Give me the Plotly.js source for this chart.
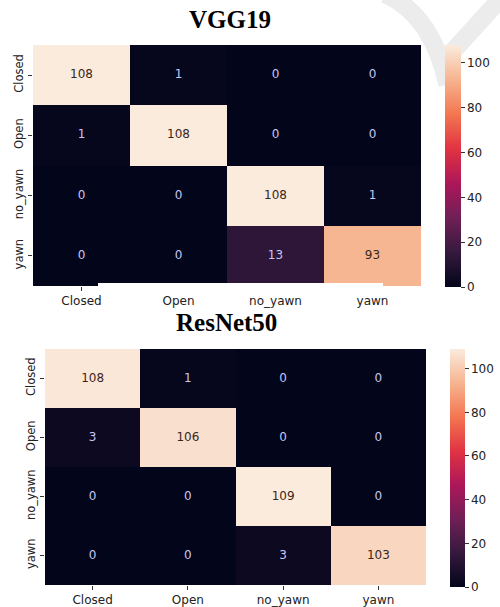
<!DOCTYPE html>
<html>
<head>
<meta charset="utf-8">
<script src="https://cdn.plot.ly/plotly-3.0.1.min.js"></script>
<style>html,body{margin:0;padding:0;background:#fff;}#chart{width:500px;height:607px;}</style>
</head>
<body>
<div id="chart"></div>
<script>
// ---- data ----
const classes = ["Closed", "Open", "no_yawn", "yawn"];
const titleTop = "VGG19";
const titleBottom = "ResNet50";
const vggMatrix = [
  [108, 1, 0, 0],
  [1, 108, 0, 0],
  [0, 0, 108, 1],
  [0, 0, 13, 93]
];
const resnetMatrix = [
  [108, 1, 0, 0],
  [3, 106, 0, 0],
  [0, 0, 109, 0],
  [0, 0, 3, 103]
];
const cbTicks = [0, 20, 40, 60, 80, 100];

// seaborn "rocket" colormap approximation
const rocket = [
  [0.0, "#03051a"],
  [0.143, "#35193e"],
  [0.286, "#701f57"],
  [0.429, "#ad1759"],
  [0.571, "#e13342"],
  [0.714, "#f37651"],
  [0.857, "#f6b48f"],
  [1.0, "#faebdd"]
];

function maxOf(m) { return Math.max(...m.map(r => Math.max(...r))); }

function heat(m, xa, ya, cb) {
  return {
    type: "heatmap",
    z: m, x: classes, y: classes,
    xaxis: xa, yaxis: ya,
    zmin: 0, zmax: maxOf(m),
    colorscale: rocket,
    hoverinfo: "skip",
    colorbar: Object.assign({
      thickness: 16, lenmode: "fraction", yanchor: "top", xanchor: "left",
      outlinewidth: 0, xpad: 0, ypad: 0,
      tickvals: cbTicks, ticks: "outside", ticklen: 4, tickwidth: 1, tickcolor: "#333",
      tickfont: {family: "DejaVu Sans", size: 12, color: "#222"}
    }, cb)
  };
}

function labels(m, xa, ya) {
  const xs = [], ys = [], ts = [], cs = [];
  const mx = maxOf(m);
  for (let i = 0; i < classes.length; i++) {
    for (let j = 0; j < classes.length; j++) {
      xs.push(classes[j]); ys.push(classes[i]); ts.push(String(m[i][j]));
      cs.push(m[i][j] > mx * 0.5 ? "#3a2618" : "#c6c6f4");
    }
  }
  return {
    type: "scatter", mode: "text", x: xs, y: ys, text: ts,
    xaxis: xa, yaxis: ya, hoverinfo: "skip", showlegend: false,
    textfont: {family: "DejaVu Sans", size: 12, color: cs}
  };
}

const data = [
  heat(vggMatrix, "x", "y", {x: 445/500, y: 1 - 45/607, len: 242/607, thickness: 16}),
  labels(vggMatrix, "x", "y"),
  heat(resnetMatrix, "x2", "y2", {x: 450/500, y: 1 - 349/607, len: 238/607, thickness: 15}),
  labels(resnetMatrix, "x2", "y2")
];

const axFont = {family: "DejaVu Sans", size: 12, color: "#222"};
function xax(dom, anchor) {
  return {domain: dom, anchor: anchor, type: "category", categoryarray: classes,
    showgrid: false, zeroline: false, showline: false, ticks: "outside", ticklen: 4,
    tickcolor: "#333", tickfont: axFont, fixedrange: true};
}
function yax(dom, anchor) {
  return {domain: dom, anchor: anchor, type: "category", categoryarray: classes,
    autorange: "reversed", showgrid: false, zeroline: false, showline: false,
    ticks: "outside", ticklen: 4, tickcolor: "#333", tickangle: -90,
    tickfont: {family: "DejaVu Sans", size: 11.5, color: "#222"}, fixedrange: true};
}

const layout = {
  width: 500, height: 607,
  margin: {l: 0, r: 0, t: 0, b: 0},
  paper_bgcolor: "#ffffff", plot_bgcolor: "rgba(0,0,0,0)",
  showlegend: false,
  xaxis: xax([33/500, 421/500], "y"),
  yaxis: yax([1 - 286/607, 1 - 45/607], "x"),
  xaxis2: xax([45/500, 426/500], "y2"),
  yaxis2: yax([1 - 585/607, 1 - 349/607], "x2"),
  annotations: [
    {text: "<b>" + titleTop + "</b>", xref: "paper", yref: "paper", x: 230/500, y: 1 - 19/607,
     xanchor: "center", yanchor: "middle",
     showarrow: false, font: {family: "Liberation Serif", size: 25, color: "#000"}},
    {text: "<b>" + titleBottom + "</b>", xref: "paper", yref: "paper", x: 226/500, y: 1 - 322/607,
     xanchor: "center", yanchor: "middle",
     showarrow: false, font: {family: "Liberation Serif", size: 25, color: "#000"}}
  ],
  shapes: [
    {type: "path", xref: "paper", yref: "paper", layer: "below",
     path: "M 0.77,1.01 Q 0.865,0.975 0.895,0.86", line: {color: "#ececec", width: 18}},
    {type: "path", xref: "paper", yref: "paper", layer: "below",
     path: "M 1.01,1.01 L 0.905,0.915", line: {color: "#ececec", width: 18}},
    {type: "rect", xref: "paper", yref: "paper", layer: "above",
     x0: 98/500, x1: 383/500, y0: 1 - 292/607, y1: 1 - 283/607,
     fillcolor: "#ffffff", line: {width: 0}}
  ]
};

Plotly.newPlot("chart", data, layout, {displayModeBar: false, staticPlot: true});
</script>
</body>
</html>
